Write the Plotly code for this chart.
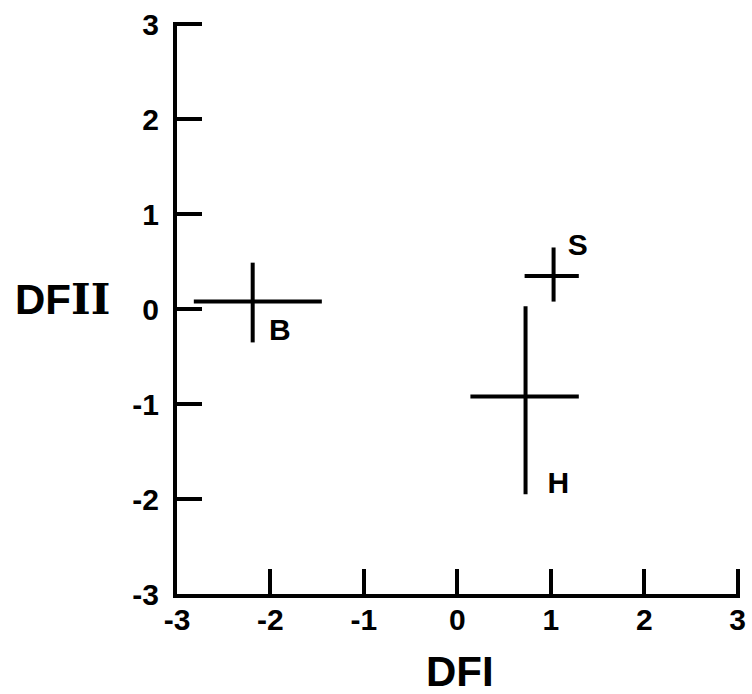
import plotly.graph_objects as go

# Data (group centroids and their spread on DFI / DFII)
groups = ["B", "S", "H"]
center_x = [-2.19, 1.03, 0.73]
center_y = [0.08, 0.35, -0.92]
x_low = [-2.82, 0.72, 0.14]
x_high = [-1.45, 1.30, 1.30]
y_low = [-0.35, 0.08, -1.95]
y_high = [0.49, 0.65, 0.03]
label_x = [-1.90, 1.29, 1.08]
label_y = [-0.25, 0.65, -1.86]

tick_vals = [-3, -2, -1, 0, 1, 2, 3]
tick_text = ["-3", "-2", "-1", "0", "1", "2", "3"]

FONT = "Liberation Sans, Arial, sans-serif"

fig = go.Figure()

fig.add_trace(go.Scatter(
    x=center_x, y=center_y,
    mode="markers",
    marker=dict(size=1, color="rgba(0,0,0,0)"),
    error_x=dict(type="data", symmetric=False,
                 array=[h - c for h, c in zip(x_high, center_x)],
                 arrayminus=[c - l for c, l in zip(center_x, x_low)],
                 width=0, thickness=4, color="black"),
    error_y=dict(type="data", symmetric=False,
                 array=[h - c for h, c in zip(y_high, center_y)],
                 arrayminus=[c - l for c, l in zip(center_y, y_low)],
                 width=0, thickness=4, color="black"),
    showlegend=False, hoverinfo="skip",
))

fig.add_trace(go.Scatter(
    x=label_x, y=label_y, text=groups, mode="text",
    textfont=dict(size=30, color="black", family=FONT, weight="bold"),
    showlegend=False, hoverinfo="skip",
))

axis_common = dict(
    range=[-3, 3.025], tickvals=tick_vals, ticktext=tick_text,
    showgrid=False, zeroline=False, showline=True,
    linecolor="black", linewidth=4,
    ticks="inside", ticklen=25, tickwidth=4, tickcolor="black",
    tickfont=dict(size=30, color="black", family=FONT, weight="bold"),
)

fig.update_layout(
    width=752, height=694,
    margin=dict(l=177, r=6, t=22, b=100),
    plot_bgcolor="white", paper_bgcolor="white",
    xaxis=dict(**axis_common, ticklabelstandoff=-4),
    yaxis=dict(**axis_common, ticklabelstandoff=8),
    annotations=[
        dict(text="DFI", x=0.502, y=-0.135, xref="paper", yref="paper",
             showarrow=False,
             font=dict(size=42, color="black", family=FONT, weight="bold"),
             xanchor="center", yanchor="middle"),
        dict(text="DF<span style='font-family:DejaVu Serif'>II</span>",
             x=-0.2025, y=0.514, xref="paper", yref="paper",
             showarrow=False,
             font=dict(size=42, color="black", family=FONT, weight="bold"),
             xanchor="center", yanchor="middle"),
    ],
)

fig.write_html("out.html")
